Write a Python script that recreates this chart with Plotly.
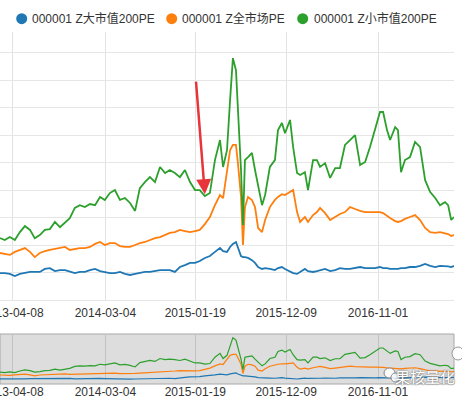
import plotly.graph_objects as go

# ---------------- data ----------------
dates = [
    "2013-02-21", "2013-03-10", "2013-03-28", "2013-04-15", "2013-05-03", "2013-05-21", "2013-06-08", "2013-06-25",
    "2013-07-13", "2013-07-31", "2013-08-18", "2013-09-05", "2013-09-23", "2013-10-11", "2013-10-28", "2013-11-15",
    "2013-12-03", "2013-12-21", "2014-01-08", "2014-01-26", "2014-02-13", "2014-03-02", "2014-03-20", "2014-04-07",
    "2014-04-25", "2014-05-13", "2014-05-31", "2014-06-18", "2014-07-05", "2014-07-23", "2014-08-10", "2014-08-28",
    "2014-09-15", "2014-10-03", "2014-10-20", "2014-11-07", "2014-11-25", "2014-12-13", "2014-12-31", "2015-01-18",
    "2015-02-04", "2015-02-22", "2015-03-12", "2015-03-30", "2015-04-17",
    "2015-04-28", "2015-05-12", "2015-05-23", "2015-06-02", "2015-06-13", "2015-06-20", "2015-07-01", "2015-07-08",
    "2015-07-15", "2015-07-26", "2015-08-09", "2015-08-20", "2015-08-31", "2015-09-14", "2015-09-25", "2015-10-12",
    "2015-10-30", "2015-11-10", "2015-11-24", "2015-12-05", "2015-12-23", "2016-01-03", "2016-01-17", "2016-01-28",
    "2016-02-14", "2016-02-25", "2016-03-14", "2016-03-28", "2016-04-08", "2016-04-26", "2016-05-14", "2016-06-01",
    "2016-06-18", "2016-07-06", "2016-07-24", "2016-08-11", "2016-08-29", "2016-09-16", "2016-10-03", "2016-10-21",
    "2016-11-08", "2016-11-19", "2016-12-03", "2016-12-14", "2017-01-01", "2017-01-11", "2017-01-22", "2017-02-05",
    "2017-02-23", "2017-03-13", "2017-03-31", "2017-04-18", "2017-05-06", "2017-05-24", "2017-06-10", "2017-06-28",
    "2017-07-09", "2017-07-20", "2017-07-30",
]

big_cap_pe = [
    9.8, 9.8, 9.5, 8.7, 9.5, 9.8, 10.2, 10.2, 10.2, 11.3,
    11.6, 10.5, 10.9, 10.9, 10.5, 9.8, 10.2, 10.2, 10.9, 11.3,
    10.5, 10.2, 9.8, 9.8, 10.2, 9.5, 9.1, 9.5, 9.8, 10.2,
    10.2, 10.5, 10.9, 10.9, 10.9, 10.2, 12.0, 12.7, 13.5, 13.5,
    14.2, 15.3, 16.0, 17.5, 18.9,
    17.8, 17.5, 19.3, 20.4, 21.1, 18.9, 16.0, 15.6, 15.6, 15.3,
    14.5, 13.5, 12.0, 11.3, 11.6, 11.3, 10.9, 11.6, 12.0, 11.3,
    10.5, 9.8, 9.5, 10.2, 11.3, 10.5, 10.2, 10.5, 10.9, 11.3,
    10.5, 10.9, 11.6, 11.3, 11.3, 11.6, 12.0, 11.6, 11.6, 11.6,
    12.0, 11.6, 11.6, 11.3, 11.3, 11.3, 11.6, 11.6, 12.0, 12.0,
    12.4, 13.1, 12.4, 12.0, 12.4, 12.4, 12.2, 12.0, 12.4,
]

all_market_pe = [
    17.1, 16.7, 16.4, 17.5, 18.2, 18.9, 17.5, 15.6, 17.1, 17.8,
    18.2, 18.5, 18.9, 19.3, 18.2, 18.5, 18.9, 18.9, 19.3, 20.4,
    21.1, 20.0, 20.7, 20.7, 19.6, 19.3, 19.3, 20.0, 20.7, 21.1,
    21.8, 22.5, 22.9, 23.6, 24.4, 24.7, 25.5, 25.1, 24.7, 25.1,
    25.5, 27.6, 30.2, 34.5, 38.2,
    37.1, 46.5, 54.5, 56.4, 56.4, 49.8, 37.5, 20.0, 33.8, 37.5,
    36.4, 33.8, 26.2, 24.7, 29.1, 33.8, 36.4, 37.5, 38.5, 38.2,
    39.3, 40.0, 32.0, 28.4, 30.2, 28.4, 30.9, 32.0, 33.5, 31.6,
    29.1, 30.2, 31.3, 32.0, 33.8, 33.1, 32.4, 32.0, 32.0, 32.0,
    32.0, 31.6, 30.5, 29.8, 28.7, 28.4, 28.7, 29.5, 30.2, 30.9,
    29.1, 26.2, 24.7, 24.4, 24.7, 24.4, 24.0, 23.3, 23.6,
]

small_cap_pe = [
    22.5, 21.8, 22.9, 21.8, 24.7, 26.9, 25.5, 22.5, 23.6, 25.5,
    25.8, 28.4, 26.5, 28.4, 29.8, 33.5, 34.5, 33.8, 34.9, 34.5,
    37.5, 36.4, 38.9, 40.0, 36.4, 37.1, 35.3, 32.4, 40.7, 42.9,
    44.7, 42.9, 48.4, 46.2, 47.3, 46.2, 44.7, 47.3, 42.9, 40.0,
    40.0, 37.8, 38.9, 50.9, 58.2,
    48.4, 54.5, 72.7, 88.0, 83.6, 70.2, 47.3, 27.3, 50.9, 52.0,
    53.5, 47.3, 41.1, 34.5, 38.2, 48.4, 50.9, 61.8, 64.4, 60.7,
    65.5, 55.6, 46.2, 45.5, 46.5, 40.0, 50.9, 50.9, 48.4, 49.8,
    44.4, 48.0, 48.0, 56.4, 58.2, 60.0, 49.1, 50.2, 55.6, 61.8,
    68.4, 68.4, 61.8, 58.2, 62.9, 61.8, 46.5, 50.9, 52.0, 57.5,
    55.6, 43.6, 39.3, 37.1, 34.5, 35.6, 34.5, 29.1, 30.2,
]

series_names = ["000001 Z大市值200PE", "000001 Z全市场PE", "000001 Z小市值200PE"]
series_colors = ["#1f77b4", "#ff7f0e", "#2ca02c"]
tick_dates = ["2013-04-08", "2014-03-04", "2015-01-19", "2015-12-09", "2016-11-01"]
tick_labels = ["2013-04-08", "2014-03-04", "2015-01-19", "2015-12-09", "2016-11-01"]
watermark = "果核量化"

# ---------------- layout helpers ----------------
W, H = 462, 398
ML, MR = 0, 8
PW = W - ML - MR


def px(x):
    return (x - ML) / PW


def py(y):
    return 1 - y / H


FONT = "Liberation Sans, Arial, Noto Sans CJK SC, sans-serif"

fig = go.Figure()
series = [big_cap_pe, all_market_pe, small_cap_pe]
for vals, name, col in zip(series, series_names, series_colors):
    fig.add_trace(go.Scatter(x=dates, y=vals, mode="lines", name=name,
                             line=dict(color=col, width=1.8), xaxis="x", yaxis="y",
                             showlegend=False, hoverinfo="skip"))
for vals, name, col in zip(series, series_names, series_colors):
    fig.add_trace(go.Scatter(x=dates, y=vals, mode="lines", name=name,
                             line=dict(color=col, width=1.2), xaxis="x2", yaxis="y2",
                             showlegend=False, hoverinfo="skip"))

shapes = []
annotations = []

# slider background box
shapes.append(dict(type="rect", xref="paper", yref="paper",
                   x0=px(0), x1=px(454), y0=py(384), y1=py(334),
                   fillcolor="#dddddd", line=dict(color="#a8a8a8", width=1), layer="below"))
# right handle
shapes.append(dict(type="circle", xref="paper", yref="paper",
                   x0=px(452), x1=px(464), y0=py(360), y1=py(347),
                   fillcolor="rgba(255,255,255,0.9)", line=dict(color="#999999", width=1), layer="above"))

# manual legend
legend_circle_x = [21.7, 171.7, 302.7]
legend_text_x = [30, 180, 311.5]
for cx, tx, name, col in zip(legend_circle_x, legend_text_x, series_names, series_colors):
    shapes.append(dict(type="circle", xref="paper", yref="paper",
                       x0=px(cx - 5.5), x1=px(cx + 5.5), y0=py(24.2), y1=py(13.2),
                       fillcolor=col, line=dict(width=0)))
    annotations.append(dict(text=name, xref="paper", yref="paper", x=px(tx), y=py(18.5),
                            xanchor="left", yanchor="middle", showarrow=False,
                            font=dict(family=FONT, size=12, color="#333333")))

# red arrow annotation
annotations.append(dict(x="2015-02-22", y=38.5, ax="2015-01-21", ay=80,
                        xref="x", yref="y", axref="x", ayref="y", text="",
                        showarrow=True, arrowhead=2, arrowsize=1.2, arrowwidth=2.5,
                        arrowcolor="#e8353b"))

# watermark
shapes.append(dict(type="circle", xref="paper", yref="paper",
                   x0=px(384), x1=px(395), y0=py(378), y1=py(368),
                   fillcolor="rgba(255,255,255,0.85)", line=dict(color="#888888", width=1)))
shapes.append(dict(type="circle", xref="paper", yref="paper",
                   x0=px(391), x1=px(400), y0=py(382), y1=py(373),
                   fillcolor="rgba(255,255,255,0.85)", line=dict(color="#888888", width=1)))
annotations.append(dict(text=watermark, xref="paper", yref="paper", x=px(425), y=py(376),
                        xanchor="center", yanchor="middle", showarrow=False,
                        font=dict(family="Noto Sans CJK SC", size=15, color="#ffffff",
                                  shadow="0px 0px 2px #444444")))

fig.update_layout(
    width=W, height=H,
    margin=dict(l=ML, r=MR, t=0, b=0, autoexpand=False),
    paper_bgcolor="white", plot_bgcolor="rgba(0,0,0,0)",
    showlegend=False,
    font=dict(family=FONT, size=12, color="#333333"),
    xaxis=dict(domain=[0, 1], anchor="y", type="date",
               range=[dates[0], dates[-1]],
               tickmode="array", tickvals=tick_dates, ticktext=tick_labels,
               showgrid=True, gridcolor="#e2e2e2", gridwidth=1,
               showline=False, zeroline=False, ticks="",
               tickfont=dict(family=FONT, size=12, color="#333333"),
               ticklabeloverflow="allow", ticklabelstandoff=4),
    yaxis=dict(domain=[py(300), py(32)], anchor="x", range=[0, 97.5],
               tick0=0, dtick=10, showticklabels=False, ticks="",
               showgrid=True, gridcolor="#e6e6e6", gridwidth=1,
               zeroline=True, zerolinecolor="#e6e6e6", zerolinewidth=1, showline=False),
    xaxis2=dict(domain=[0, 1], anchor="y2", type="date", matches="x",
                tickmode="array", tickvals=tick_dates, ticktext=tick_labels,
                showgrid=True, gridcolor="#c2c2c2", gridwidth=1,
                showline=False, zeroline=False, ticks="",
                tickfont=dict(family=FONT, size=12, color="#333333"),
                ticklabeloverflow="allow", ticklabelstandoff=3),
    yaxis2=dict(domain=[py(380), py(334)], anchor="x2", range=[7.6, 95],
                showgrid=False, showticklabels=False, zeroline=False, ticks="", showline=False),
    shapes=shapes,
    annotations=annotations,
)

fig.write_html("out.html", config={"displayModeBar": False, "staticPlot": True},
               post_script="document.body.style.margin='0';document.body.style.overflow='hidden';")
